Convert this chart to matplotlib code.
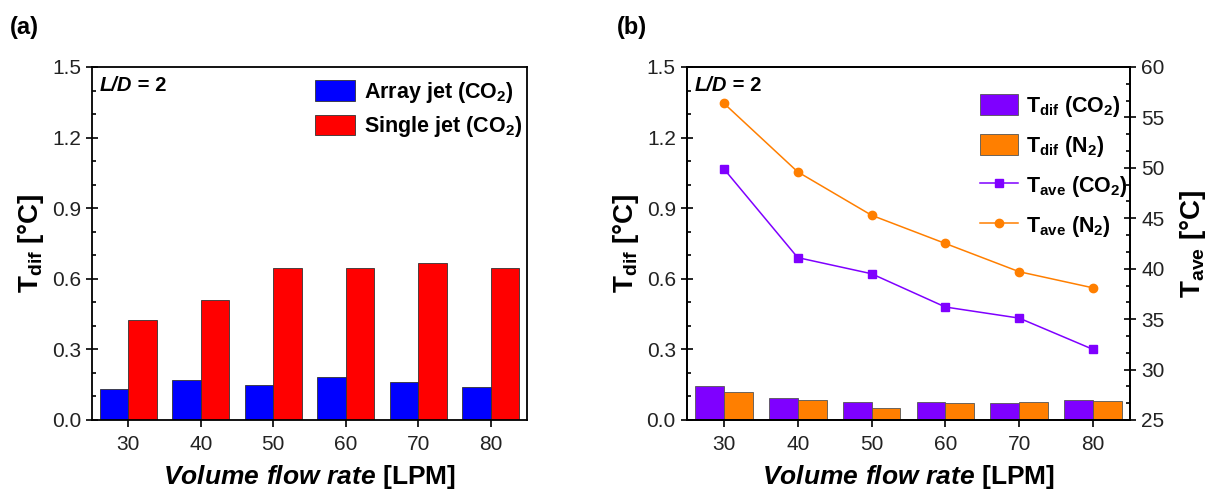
import matplotlib
matplotlib.use("Agg")
import matplotlib.pyplot as plt
from matplotlib.ticker import MultipleLocator, AutoMinorLocator
from matplotlib.patches import Patch
from matplotlib.lines import Line2D

plt.rcParams['font.family'] = ['Liberation Sans', 'DejaVu Sans']
plt.rcParams['mathtext.fontset'] = 'custom'
plt.rcParams['mathtext.rm'] = 'Liberation Sans:bold'
plt.rcParams['mathtext.bf'] = 'Liberation Sans:bold'
plt.rcParams['mathtext.it'] = 'Liberation Sans:bold:italic'
plt.rcParams['mathtext.default'] = 'bf'

# data
flow = [30, 40, 50, 60, 70, 80]
array_jet = [0.130, 0.171, 0.150, 0.181, 0.163, 0.141]
single_jet = [0.423, 0.511, 0.647, 0.647, 0.668, 0.647]
tdif_co2 = [0.143, 0.094, 0.077, 0.078, 0.071, 0.087]
tdif_n2 = [0.119, 0.083, 0.050, 0.074, 0.078, 0.081]
tave_co2 = [49.9, 41.1, 39.5, 36.2, 35.1, 32.0]
tave_n2 = [56.4, 49.6, 45.3, 42.5, 39.7, 38.1]

blue = '#0000FF'
red = '#FF0000'
purple = '#7F00FF'
orange = '#FF7F00'
w = 3.9

fig = plt.figure(figsize=(12.12, 4.9), dpi=100)
ax1 = fig.add_axes([0.0759, 0.1429, 0.3589, 0.7204])
ax2 = fig.add_axes([0.5668, 0.1429, 0.3655, 0.7204])


def style_axis(ax):
    ax.set_xlim(25, 85)
    ax.set_ylim(0, 1.5)
    ax.xaxis.set_major_locator(MultipleLocator(10))
    ax.yaxis.set_major_locator(MultipleLocator(0.3))
    ax.yaxis.set_minor_locator(AutoMinorLocator(3))
    ax.yaxis.set_major_formatter(matplotlib.ticker.FormatStrFormatter('%.1f'))
    ax.tick_params(axis='x', which='major', direction='out', length=5, width=1.2,
                   labelsize=15, pad=6, labelcolor='#222222')
    ax.tick_params(axis='y', which='major', direction='inout', length=9, width=1.2,
                   labelsize=15, labelcolor='#222222')
    ax.tick_params(axis='y', which='minor', direction='in', length=3, width=1.2)
    for s in ax.spines.values():
        s.set_linewidth(1.3)
    ax.set_xlabel(r'$\mathit{Volume\ flow\ rate}$ [LPM]', fontsize=19,
                  fontweight='bold', labelpad=6)
    ax.set_ylabel(r'T$_{dif}$ [°C]', fontsize=20, fontweight='bold', labelpad=4)
    # "L/D" in bold italic, "= 2" upright bold
    t = ax.text(0.018, 0.975, 'L/D', transform=ax.transAxes, fontsize=14.5,
                fontweight='bold', style='italic', va='top', ha='left')
    ax.annotate(' = 2', xy=(1, 0), xycoords=t, va='bottom', ha='left',
                fontsize=14.5, fontweight='bold')


# (a)
x_left = [f - w / 2 for f in flow]
x_right = [f + w / 2 for f in flow]
ax1.bar(x_left, array_jet, width=w, color=blue, edgecolor='#333333', linewidth=0.6)
ax1.bar(x_right, single_jet, width=w, color=red, edgecolor='#333333', linewidth=0.6)
style_axis(ax1)
ax1.set_xticks(flow)
handles_a = [
    Patch(facecolor=blue, edgecolor='#333333', linewidth=0.6),
    Patch(facecolor=red, edgecolor='#333333', linewidth=0.6),
]
labels_a = [r'Array jet (CO$_2$)', r'Single jet (CO$_2$)']
ax1.legend(handles_a, labels_a, loc='upper right', bbox_to_anchor=(0.993, 0.97),
           frameon=False, prop={'weight': 'bold', 'size': 15.5},
           handlelength=1.85, handleheight=1.1, handletextpad=0.4,
           borderaxespad=0.0, borderpad=0.1, labelspacing=0.45)

# (b)
ax2.bar(x_left, tdif_co2, width=w, color=purple, edgecolor='#555555', linewidth=0.6)
ax2.bar(x_right, tdif_n2, width=w, color=orange, edgecolor='#555555', linewidth=0.6)
style_axis(ax2)
ax2.set_xticks(flow)

ax3 = ax2.twinx()
ax3.plot(flow, tave_co2, color=purple, marker='s', markersize=5.5, linewidth=1.1)
ax3.plot(flow, tave_n2, color=orange, marker='o', markersize=6, linewidth=1.1)
ax3.set_ylim(25, 60)
ax3.yaxis.set_major_locator(MultipleLocator(5))
ax3.yaxis.set_minor_locator(AutoMinorLocator(3))
ax3.tick_params(axis='y', which='major', direction='inout', length=9, width=1.2,
                labelsize=15, labelcolor='#222222')
ax3.tick_params(axis='y', which='minor', direction='in', length=3, width=1.2)
for s in ax3.spines.values():
    s.set_linewidth(1.3)
ax3.set_ylabel(r'T$_{ave}$ [°C]', fontsize=20, fontweight='bold', labelpad=10)

handles_b = [
    Patch(facecolor=purple, edgecolor='#555555', linewidth=0.6),
    Patch(facecolor=orange, edgecolor='#555555', linewidth=0.6),
    Line2D([], [], color=purple, marker='s', markersize=5.5, linewidth=1.1),
    Line2D([], [], color=orange, marker='o', markersize=6, linewidth=1.1),
]
labels_b = [r'T$_{dif}$ (CO$_2$)', r'T$_{dif}$ (N$_2$)',
            r'T$_{ave}$ (CO$_2$)', r'T$_{ave}$ (N$_2$)']
ax3.legend(handles_b, labels_b, loc='upper right', bbox_to_anchor=(1.025, 0.96),
           frameon=False, prop={'weight': 'bold', 'size': 15.5},
           handlelength=1.75, handleheight=1.1, handletextpad=0.4,
           borderaxespad=0.2, labelspacing=0.7)

fig.text(0.008, 0.93, '(a)', fontsize=17, fontweight='bold')
fig.text(0.509, 0.93, '(b)', fontsize=17, fontweight='bold')

fig.savefig('out.png', dpi=100)
